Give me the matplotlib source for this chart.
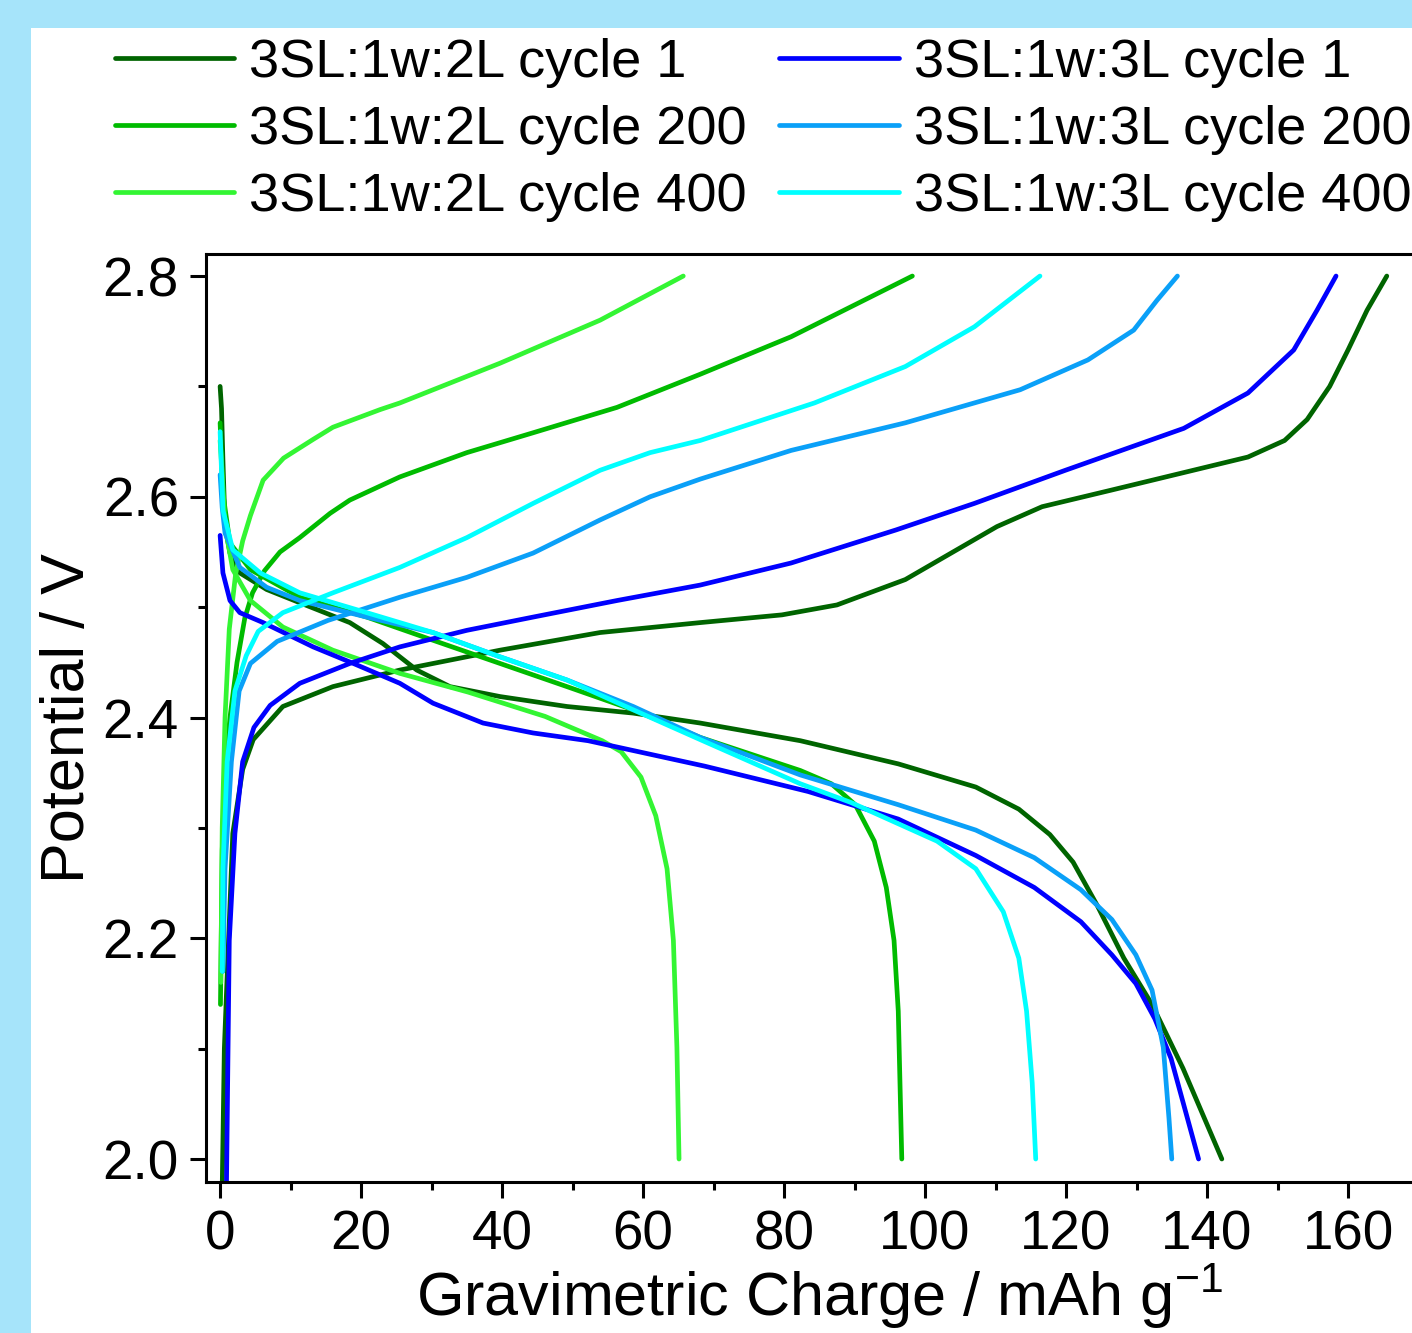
import matplotlib
matplotlib.use('Agg')
import matplotlib.pyplot as plt
from matplotlib.patches import Rectangle
from matplotlib.ticker import MultipleLocator

plt.rcParams['font.family'] = ['Liberation Sans', 'DejaVu Sans']

# 3SL:1w:2L cycle 1 (discharge then charge)
q_2L_c1_dis = [0, 0.2, 0.4, 0.7, 1.4, 2.8, 6.6, 11.3, 18.4, 23.1, 27.9, 32.6, 39.7, 49.2, 58.6, 68.1,
               82.3, 96.2, 107.2, 113.3, 117.7, 121.0, 124.4, 128.2, 132.2, 136.6, 142.1]
v_2L_c1_dis = [2.70, 2.68, 2.633, 2.573, 2.549, 2.531, 2.516, 2.504, 2.486, 2.467, 2.443, 2.428, 2.419, 2.41, 2.404, 2.395,
               2.379, 2.358, 2.337, 2.317, 2.294, 2.269, 2.23, 2.182, 2.14, 2.082, 2.0]
q_2L_c1_chg = [0.3, 0.6, 1.0, 1.8, 3.2, 4.7, 8.9, 16, 25.5, 39.7, 53.9, 68.1, 79.7, 87.5, 97.2, 103.7,
               110.2, 116.6, 126.4, 136.1, 145.8, 151.0, 154.2, 157.4, 160.0, 162.7, 165.5]
v_2L_c1_chg = [1.975, 2.10, 2.166, 2.295, 2.353, 2.38, 2.41, 2.428, 2.443, 2.461, 2.477, 2.486, 2.493, 2.502, 2.525, 2.549,
               2.573, 2.591, 2.606, 2.621, 2.636, 2.651, 2.67, 2.70, 2.733, 2.769, 2.80]

# 3SL:1w:2L cycle 200
q_2L_c200_dis = [0, 0.4, 1.4, 4.3, 11.3, 20.8, 30.2, 39.7, 49.2, 58.6, 68.1, 82.3, 86.7, 90.1, 92.8, 94.5, 95.6, 96.2, 96.7]
v_2L_c200_dis = [2.667, 2.603, 2.558, 2.534, 2.509, 2.491, 2.470, 2.449, 2.428, 2.407, 2.382, 2.352, 2.34, 2.321, 2.288,
                 2.246, 2.198, 2.134, 2.0]
q_2L_c200_chg = [0.05, 0.3, 0.8, 1.4, 2.4, 3.5, 4.6, 6.3, 8.5, 11.3, 15.6, 18.4, 25.5, 35, 44.4, 56.3, 68.1, 81, 98.2]
v_2L_c200_chg = [2.14, 2.28, 2.36, 2.40, 2.45, 2.49, 2.513, 2.533, 2.55, 2.563, 2.585, 2.597, 2.618, 2.64, 2.658, 2.681,
                 2.711, 2.745, 2.80]

# 3SL:1w:2L cycle 400
q_2L_c400_dis = [0, 0.3, 0.7, 1.8, 4.3, 8.9, 16, 25.5, 35.2, 46.1, 54.2, 56.9, 59.7, 61.8, 63.4, 64.3, 64.8, 65.1]
v_2L_c400_dis = [2.651, 2.62, 2.573, 2.534, 2.506, 2.482, 2.461, 2.44, 2.423, 2.401, 2.379, 2.369, 2.346, 2.311, 2.263,
                 2.198, 2.101, 2.0]
q_2L_c400_chg = [0.1, 0.3, 0.7, 1.3, 2.2, 3.2, 4.3, 6.1, 9.0, 13.2, 16, 22.7, 25.5, 39.7, 53.9, 65.7]
v_2L_c400_chg = [2.16, 2.30, 2.40, 2.48, 2.53, 2.56, 2.583, 2.615, 2.635, 2.652, 2.663, 2.679, 2.685, 2.721, 2.76, 2.80]

# 3SL:1w:3L cycle 1
q_3L_c1_dis = [0, 0.4, 1.4, 2.8, 6.1, 13.2, 18.9, 25.5, 30.2, 37.3, 44.4, 52.2, 68.7, 83.4, 96.2, 107.2, 115.5,
               122.1, 126.5, 129.9, 132.6, 134.9, 138.8]
v_3L_c1_dis = [2.565, 2.531, 2.506, 2.495, 2.486, 2.464, 2.449, 2.431, 2.413, 2.395, 2.386, 2.379, 2.356, 2.333, 2.308,
               2.275, 2.246, 2.215, 2.185, 2.159, 2.127, 2.091, 2.0]
q_3L_c1_chg = [0.9, 1.3, 2.1, 3.2, 4.8, 7.1, 11.3, 18.4, 25.5, 35, 44.4, 56.3, 68.1, 81.0, 95.9, 107, 119.9, 136.7,
               145.8, 152.3, 155.6, 158.3]
v_3L_c1_chg = [1.975, 2.198, 2.295, 2.36, 2.391, 2.411, 2.431, 2.449, 2.464, 2.479, 2.491, 2.506, 2.52, 2.54, 2.57,
               2.594, 2.624, 2.662, 2.694, 2.733, 2.769, 2.80]

# 3SL:1w:3L cycle 200
q_3L_c200_dis = [0, 0.3, 0.7, 2.8, 6.6, 11.3, 20.8, 30.2, 39.7, 49.2, 58.6, 68.1, 82.3, 96.2, 107.2, 115.5, 122.1,
                 126.5, 129.9, 132.2, 133.8, 134.6, 135.0]
v_3L_c200_dis = [2.62, 2.59, 2.567, 2.536, 2.518, 2.506, 2.491, 2.477, 2.455, 2.434, 2.41, 2.382, 2.348, 2.321, 2.298,
                 2.273, 2.244, 2.217, 2.185, 2.153, 2.101, 2.037, 2.0]
q_3L_c200_chg = [0.4, 0.7, 1.6, 2.7, 4.3, 8.1, 15.3, 25.5, 35, 44.4, 53.9, 61, 68.1, 81.0, 97.2, 113.5, 123.1, 129.6,
                 132.9, 135.8]
v_3L_c200_chg = [2.17, 2.263, 2.36, 2.424, 2.449, 2.469, 2.488, 2.509, 2.527, 2.549, 2.579, 2.60, 2.616, 2.642, 2.667,
                 2.697, 2.724, 2.751, 2.778, 2.80]

# 3SL:1w:3L cycle 400
q_3L_c400_dis = [0, 0.4, 1.8, 5.7, 11.3, 20.8, 30.2, 39.7, 49.2, 58.6, 68.1, 82.3, 89.5, 101.7, 107.2, 111.1, 113.3,
                 114.4, 115.2, 115.7]
v_3L_c400_dis = [2.659, 2.588, 2.552, 2.531, 2.513, 2.495, 2.477, 2.455, 2.434, 2.407, 2.38, 2.34, 2.323, 2.288, 2.263,
                 2.224, 2.182, 2.134, 2.069, 2.0]
q_3L_c400_chg = [0.3, 0.4, 1.0, 2.1, 3.7, 5.4, 8.9, 16, 25.5, 35, 44.4, 53.9, 61, 68.1, 84.3, 97.2, 107, 116.3]
v_3L_c400_chg = [2.17, 2.263, 2.36, 2.424, 2.456, 2.478, 2.495, 2.513, 2.536, 2.563, 2.594, 2.624, 2.64, 2.651, 2.685,
                 2.718, 2.754, 2.80]

labels = ['3SL:1w:2L cycle 1', '3SL:1w:2L cycle 200', '3SL:1w:2L cycle 400',
          '3SL:1w:3L cycle 1', '3SL:1w:3L cycle 200', '3SL:1w:3L cycle 400']
colors = ['#006400', '#00BB00', '#33F533', '#0000FF', '#0AA0F8', '#00FFFF']

series = [
    (q_2L_c1_dis, v_2L_c1_dis, q_2L_c1_chg, v_2L_c1_chg),
    (q_2L_c200_dis, v_2L_c200_dis, q_2L_c200_chg, v_2L_c200_chg),
    (q_2L_c400_dis, v_2L_c400_dis, q_2L_c400_chg, v_2L_c400_chg),
    (q_3L_c1_dis, v_3L_c1_dis, q_3L_c1_chg, v_3L_c1_chg),
    (q_3L_c200_dis, v_3L_c200_dis, q_3L_c200_chg, v_3L_c200_chg),
    (q_3L_c400_dis, v_3L_c400_dis, q_3L_c400_chg, v_3L_c400_chg),
]

fig = plt.figure(figsize=(14.12, 13.33), dpi=100)
fig.patch.set_facecolor('#A6E4FA')
# white panel inside the light blue frame
fig.add_artist(Rectangle((31 / 1412, 0), 1, 1 - 28 / 1333, transform=fig.transFigure,
                         facecolor='white', edgecolor='none', zorder=-1))

ax = fig.add_axes([0.1459, 0.1133, 0.8687, 0.6961])
ax.set_facecolor('none')

handles = []
for (qd, vd, qc, vc), col, lab in zip(series, colors, labels):
    h, = ax.plot(qd, vd, color=col, lw=3.4, solid_capstyle='round', solid_joinstyle='round', label=lab)
    ax.plot(qc, vc, color=col, lw=3.4, solid_capstyle='round', solid_joinstyle='round')
    handles.append(h)

ax.set_xlim(-2, 172)
ax.set_ylim(1.9792, 2.8199)
ax.xaxis.set_major_locator(MultipleLocator(20))
ax.xaxis.set_minor_locator(MultipleLocator(10))
ax.yaxis.set_major_locator(MultipleLocator(0.2))
ax.yaxis.set_minor_locator(MultipleLocator(0.1))

for s in ['left', 'bottom', 'top']:
    ax.spines[s].set_linewidth(2.2)
ax.spines['right'].set_visible(False)

ax.tick_params(which='major', direction='out', length=11.5, width=2.2, labelsize=39.5, pad=8)
ax.tick_params(which='minor', direction='out', length=5.5, width=2.2)
ax.tick_params(axis='x', which='both', top=False)
ax.tick_params(axis='y', which='both', right=False)

ax.set_xlabel('Gravimetric Charge / mAh g$^{\\mathregular{-1}}$', fontsize=44, labelpad=0)
ax.set_ylabel('Potential / V', fontsize=44, labelpad=4)

fig.legend(handles=handles, loc='upper left', bbox_to_anchor=(115 / 1412, 1 - 38 / 1333),
           ncol=2, frameon=False, fontsize=39, handlelength=2.2, handletextpad=0.28,
           columnspacing=0.6, labelspacing=0.31, borderpad=0, borderaxespad=0)

fig.savefig('out.png', dpi=100)
